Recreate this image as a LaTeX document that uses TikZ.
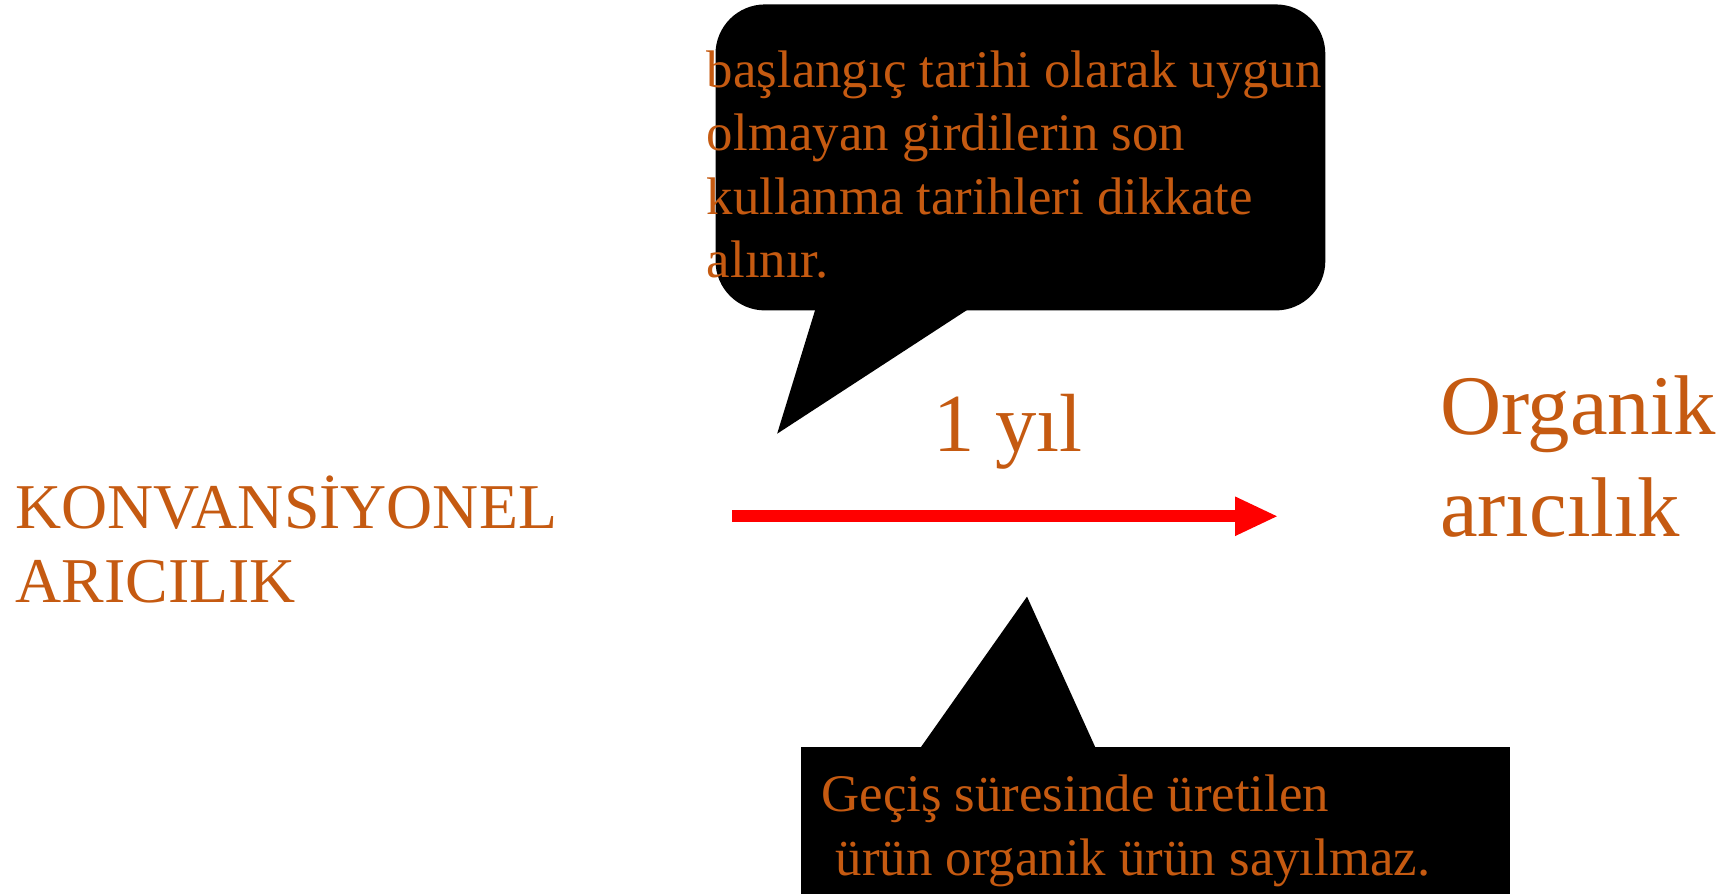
\documentclass[tikz,border=0pt]{standalone}
\usepackage{fontspec}
\setmainfont{Liberation Serif}
\usetikzlibrary{arrows.meta}
\definecolor{txtorange}{HTML}{C55A11}
\tikzset{
  lbl/.style={inner sep=0pt, text=txtorange, align=left, anchor=base west},
  bubble/.style={fill=black},
  bigarrow/.style={draw=red, line width=11pt, -{Triangle[length=38pt,width=36pt,line width=0pt]}}
}
\begin{document}
\begin{tikzpicture}[x=1pt,y=-1pt]
\useasboundingbox (0,0) rectangle (1568,812);
% top callout
\fill[bubble, rounded corners=45pt] (650,4) rectangle (1204,282);
\fill[bubble] (741,280) -- (706,394) -- (881,280) -- cycle;
% bottom callout
\fill[bubble] (728,679) rectangle (1372,815);
\fill[bubble] (835,681) -- (933,542) -- (996,681) -- cycle;
% texts (base = baseline of last line)
\node[lbl, font=\fontsize{48}{57.5}\selectfont] (top) at (642,252)
  {başlangıç tarihi olarak uygun\\olmayan girdilerin son\\kullanma tarihleri dikkate\\alınır.};
\node[lbl, font=\fontsize{48}{58}\selectfont] (bot) at (746,795)
  {Geçiş süresinde üretilen\\\hspace*{13pt}ürün organik ürün sayılmaz.};
\node[lbl, font=\fontsize{58}{67}\selectfont] (konv) at (14,547)
  {KONVANSİYONEL\\ARICILIK};
\node[lbl, font=\fontsize{77}{92}\selectfont] (org) at (1308,487)
  {Organik\\arıcılık};
\node[lbl, font=\fontsize{75}{90}\selectfont] (yil) at (848,410) {1 yıl};
% arrow
\coordinate (as) at (665,469);
\coordinate (ae) at (1160,469);
\draw[bigarrow] (as) -- (ae);
\end{tikzpicture}
\end{document}
